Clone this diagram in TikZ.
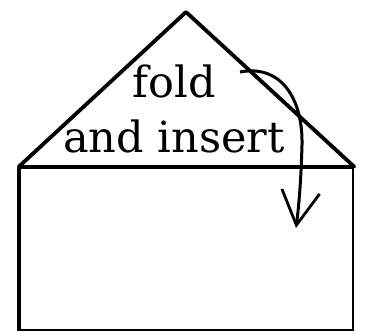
\documentclass[tikz,border=0pt]{standalone}
\usepackage{fontspec}
\setmainfont{DejaVu Serif}
\usetikzlibrary{arrows.meta, positioning}

\begin{document}
\begin{tikzpicture}[
	x=1pt, y=-1pt,
	body/.style={draw, rectangle, line width=2.5pt, minimum width=333pt, minimum height=162pt, inner sep=0pt},
	flap/.style={line width=3.8pt, line join=round, line cap=round},
	caption/.style={font=\fontsize{43}{55}\selectfont, align=center, inner sep=0pt},
	arrow/.style={-{Straight Barb[length=34pt, width=38pt, line width=2.8pt]}, line width=3pt}
	]
	\useasboundingbox (0,0) rectangle (365,332);
	
	% Envelope body
	\node[body] (envelope) at (186.5,249) {};
	\draw[line width=4.5pt] (envelope.north west) -- (envelope.south west);
	\draw[line width=3.8pt] (envelope.north west) -- (envelope.north east);
	
	% Flap
	\coordinate (apex) at (186,12);
	\draw[flap] (envelope.north west) -- (apex) -- (envelope.north east);
	
	% Text
	\node[caption, anchor=base] (label) at (174,152) {fold\\and insert};
	
	% Fold arrow
	\coordinate (foldstart) at (240,72);
	\coordinate (foldend) at (296,228);
	\draw[arrow] (foldstart) .. controls (282,64) and (303,100) .. (302,145)
		.. controls (301,180) and (299,205) .. (foldend);
	
\end{tikzpicture}
\end{document}
